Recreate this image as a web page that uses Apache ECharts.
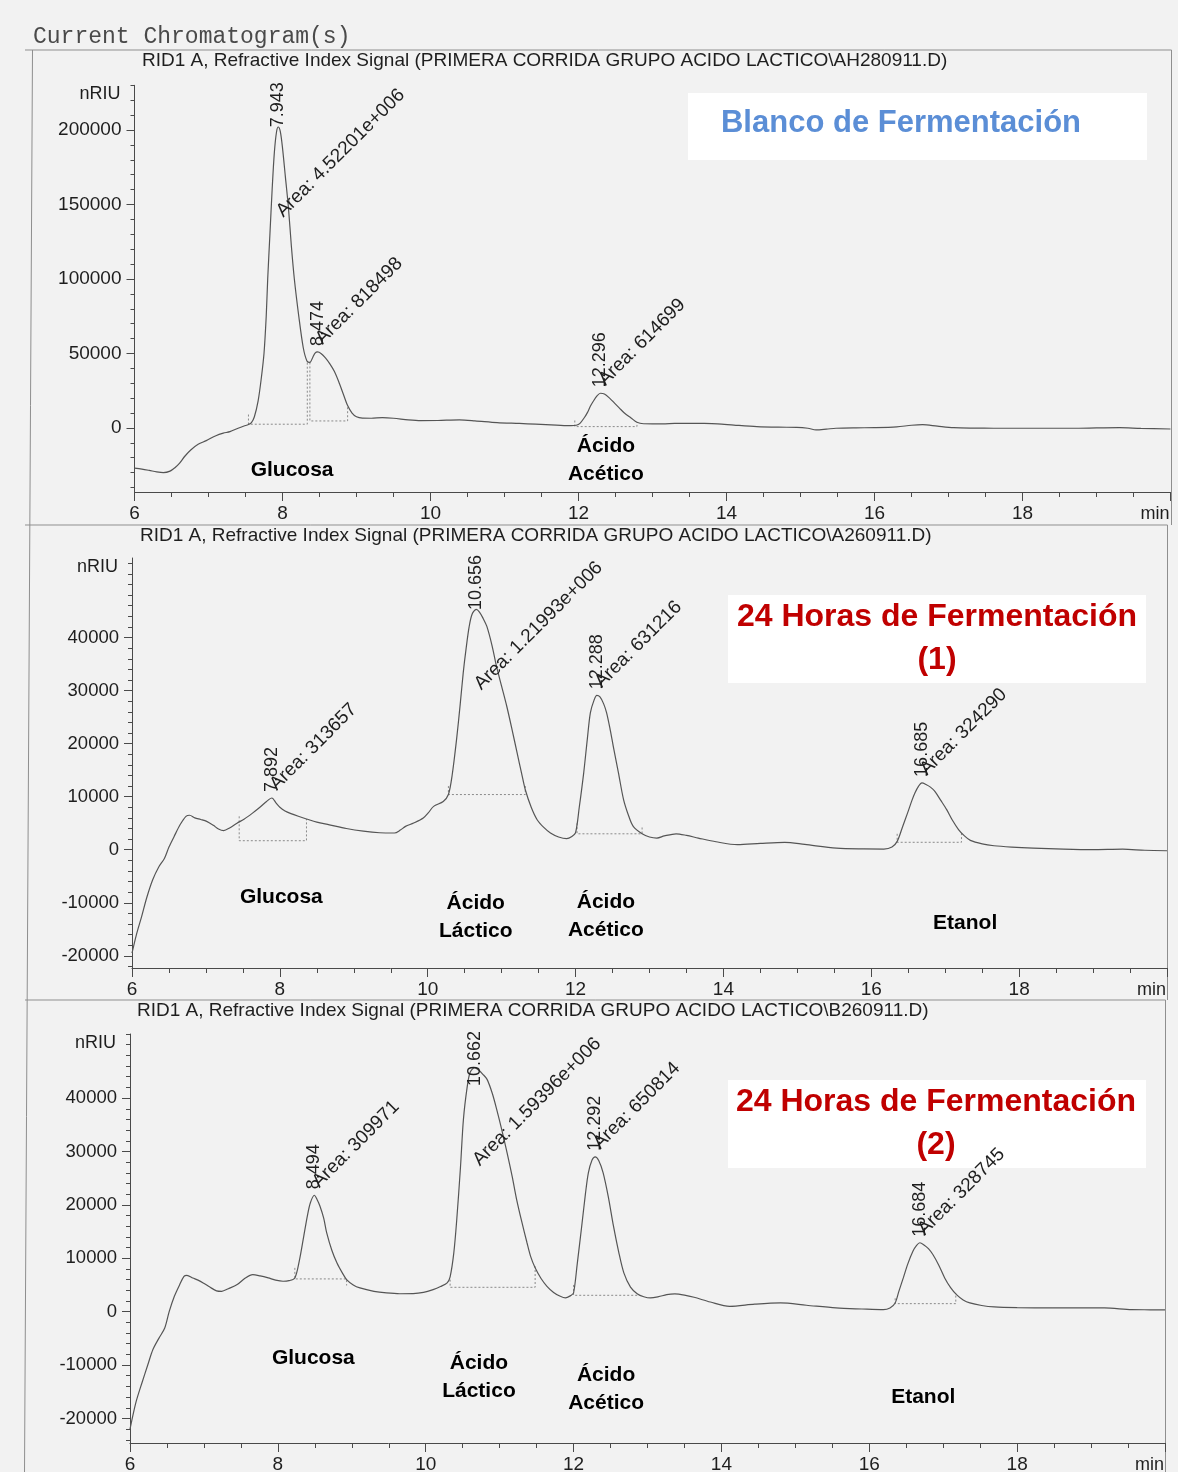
<!DOCTYPE html>
<html>
<head>
<meta charset="utf-8">
<title>Current Chromatogram(s)</title>
<script src="https://cdn.jsdelivr.net/npm/echarts@6/dist/echarts.min.js"></script>
<style>
  html, body { margin: 0; padding: 0; background: #f2f2f2; }
  #chart { width: 1178px; height: 1472px; }
</style>
</head>
<body>
<div id="chart"></div>
<script>
// ---------- Data: refractive index signal (nRIU) vs. retention time (min) ----------

// Blank fermentation run (AH280911.D)
const blancoSignal = [
  [6.00, -27000], [6.10, -27600], [6.20, -28500], [6.30, -29500], [6.39, -30000], [6.48, -29000],
  [6.55, -26500], [6.61, -23600], [6.68, -19000], [6.76, -14800], [6.86, -11000], [6.97, -8500],
  [7.10, -5200], [7.20, -3500], [7.29, -2500], [7.40, -200], [7.48, 1300], [7.54, 2300],
  [7.58, 3500], [7.62, 7500], [7.67, 18000], [7.71, 32000], [7.75, 50000], [7.78, 75000],
  [7.80, 100000], [7.83, 130000], [7.86, 160000], [7.89, 185000], [7.92, 199000], [7.943, 202000],
  [7.97, 199000], [8.00, 188000], [8.04, 168000], [8.08, 148000], [8.12, 122000], [8.16, 100000],
  [8.22, 75000], [8.28, 54000], [8.33, 45000], [8.37, 44000], [8.41, 47500], [8.44, 50200],
  [8.474, 51000], [8.52, 50000], [8.58, 47000], [8.64, 43000], [8.70, 38000], [8.76, 31000],
  [8.82, 23000], [8.88, 15000], [8.94, 10000], [9.00, 7500], [9.08, 6600], [9.20, 6500],
  [9.35, 6900], [9.50, 6500], [9.70, 5400], [9.87, 4900], [10.10, 5000], [10.39, 5400],
  [10.60, 4800], [10.90, 3600], [11.20, 3000], [11.42, 2500], [11.70, 1900], [11.90, 1500],
  [11.97, 1800], [12.02, 3100], [12.08, 7000], [12.12, 10300], [12.16, 14500], [12.20, 17900],
  [12.25, 21500], [12.296, 23300], [12.35, 22800], [12.42, 20000], [12.49, 16500], [12.55, 13500],
  [12.62, 10000], [12.71, 6700], [12.79, 3800], [12.88, 2800], [13.00, 2700], [13.13, 2700],
  [13.30, 3000], [13.50, 3100], [13.70, 3000], [13.88, 2700], [14.10, 1900], [14.41, 900],
  [14.70, 500], [14.95, 400], [15.10, -200], [15.21, -1300], [15.35, -800], [15.48, -200],
  [15.75, 100], [16.00, 200], [16.30, 700], [16.50, 1800], [16.65, 2200], [16.85, 1200],
  [17.07, 200], [17.35, -100], [17.61, -200], [18.00, -200], [18.67, -200], [19.00, 0],
  [19.31, 200], [19.60, -300], [20.00, -700]
];
const blancoRT = [7.943, 8.474, 12.296];
const blancoApex = [202000, 51000, 23300];
const blancoArea = ['4.52201e+006', '818498', '614699'];
// integration baselines: [start, end, level, left marker top, right marker top]
const blancoBaselines = [
  [7.54, 8.335, 2500, 9000, 44500],
  [8.37, 8.88, 4700, 44000, 14000],
  [11.95, 12.79, 900, 5000, 3800]
];
const blancoCompounds = ['Glucosa', 'Ácido\nAcético'];

// 24 h fermentation, replicate 1 (A260911.D)
const h24aSignal = [
  [6.00, -19500], [6.06, -16000], [6.13, -12600], [6.20, -9000], [6.28, -5660], [6.36, -3300],
  [6.44, -1600], [6.50, 500], [6.57, 2500], [6.65, 4700], [6.73, 6300], [6.78, 6500],
  [6.85, 6000], [6.93, 5700], [7.01, 5350], [7.10, 4600], [7.17, 3900], [7.24, 3600],
  [7.32, 4100], [7.42, 5000], [7.52, 5800], [7.63, 6900], [7.73, 8000], [7.82, 9100],
  [7.892, 9750], [7.95, 8800], [8.00, 8000], [8.07, 7300], [8.15, 6800], [8.25, 6300],
  [8.36, 5800], [8.50, 5200], [8.67, 4700], [8.90, 4000], [9.13, 3500], [9.35, 3200],
  [9.55, 3150], [9.63, 3700], [9.70, 4400], [9.81, 5030], [9.94, 5980], [10.01, 7000],
  [10.08, 8170], [10.21, 9100], [10.28, 10400], [10.33, 14000], [10.39, 20750], [10.44, 27500],
  [10.48, 33300], [10.52, 38000], [10.56, 42000], [10.60, 44400], [10.656, 45300], [10.70, 44800],
  [10.75, 43600], [10.80, 42100], [10.87, 38500], [10.93, 34600], [11.00, 30800], [11.07, 27000],
  [11.14, 22700], [11.21, 18200], [11.27, 14400], [11.32, 11300], [11.40, 8000], [11.48, 5660],
  [11.57, 4200], [11.66, 3150], [11.77, 2400], [11.88, 2080], [11.95, 2500], [12.00, 3200],
  [12.05, 8000], [12.11, 14500], [12.16, 21000], [12.20, 25800], [12.25, 28200], [12.288, 29100],
  [12.33, 28800], [12.38, 27500], [12.42, 25800], [12.47, 22500], [12.51, 19500], [12.58, 14500],
  [12.65, 9400], [12.72, 6300], [12.78, 4400], [12.90, 3000], [13.00, 2400], [13.10, 2200],
  [13.20, 2600], [13.36, 3000], [13.50, 2700], [13.66, 2200], [13.90, 1500], [14.19, 950],
  [14.50, 1200], [14.83, 1400], [15.10, 1000], [15.53, 300], [15.90, 150], [16.17, 130],
  [16.28, 500], [16.35, 1570], [16.42, 4200], [16.49, 6900], [16.55, 9300], [16.59, 10700],
  [16.64, 12000], [16.685, 12600], [16.74, 12300], [16.80, 11800], [16.86, 11000], [16.94, 9300],
  [17.02, 7550], [17.10, 5500], [17.18, 3800], [17.26, 2600], [17.34, 1760], [17.50, 1100],
  [17.66, 750], [17.90, 500], [18.19, 300], [18.60, 100], [18.99, 0], [19.40, 100],
  [19.70, -100], [20.00, -190]
];
const h24aRT = [7.892, 10.656, 12.288, 16.685];
const h24aApex = [9750, 45300, 29100, 12600];
const h24aArea = ['313657', '1.21993e+006', '631216', '324290'];
const h24aBaselines = [
  [7.45, 8.36, 1700, 6300, 5800],
  [10.28, 11.32, 10400, 12000, 12000],
  [12.02, 12.90, 3000, 5000, 4200],
  [16.35, 17.22, 1400, 3000, 3500]
];
const h24aCompounds = ['Glucosa', 'Ácido\nLáctico', 'Ácido\nAcético', 'Etanol'];

// 24 h fermentation, replicate 2 (B260911.D)
const h24bSignal = [
  [6.00, -22000], [6.08, -17000], [6.16, -13400], [6.24, -10000], [6.31, -7100], [6.39, -5000],
  [6.47, -3060], [6.53, 0], [6.60, 2870], [6.67, 5000], [6.73, 6620], [6.77, 6800],
  [6.85, 6300], [6.92, 5900], [6.99, 5380], [7.08, 4600], [7.17, 3900], [7.24, 3810],
  [7.33, 4300], [7.45, 5070], [7.56, 6300], [7.66, 6940], [7.76, 6700], [7.87, 6320],
  [7.97, 5900], [8.07, 5690], [8.15, 5800], [8.23, 6320], [8.29, 9500], [8.35, 14100],
  [8.40, 18000], [8.44, 20400], [8.494, 21800], [8.53, 21000], [8.57, 19750], [8.62, 17500],
  [8.66, 14800], [8.73, 11500], [8.80, 9100], [8.87, 7300], [8.93, 6000], [9.02, 5000],
  [9.11, 4440], [9.30, 3800], [9.47, 3500], [9.65, 3350], [9.83, 3370], [9.97, 3600],
  [10.10, 4130], [10.20, 4700], [10.29, 5380], [10.33, 6500], [10.38, 11000], [10.42, 17260],
  [10.47, 27000], [10.51, 36000], [10.56, 42000], [10.60, 44800], [10.662, 45700], [10.71, 45300],
  [10.77, 44500], [10.83, 43500], [10.90, 40900], [10.96, 37900], [11.03, 34000], [11.10, 29800],
  [11.17, 25300], [11.23, 21000], [11.30, 16800], [11.37, 12900], [11.42, 10300], [11.48, 8200],
  [11.56, 6200], [11.64, 4750], [11.73, 3600], [11.82, 2870], [11.89, 2570], [11.96, 3000],
  [12.00, 3500], [12.05, 9000], [12.11, 16000], [12.16, 22000], [12.20, 26000], [12.25, 28400],
  [12.292, 29000], [12.34, 28300], [12.40, 26000], [12.47, 21500], [12.54, 16000], [12.61, 11200],
  [12.68, 7260], [12.77, 4600], [12.86, 3370], [12.95, 2800], [13.04, 2570], [13.15, 2800],
  [13.26, 3190], [13.37, 3320], [13.50, 3100], [13.63, 2690], [13.85, 1800], [14.11, 1000],
  [14.45, 1400], [14.80, 1630], [15.15, 1200], [15.55, 690], [15.90, 500], [16.19, 380],
  [16.28, 700], [16.35, 1630], [16.40, 3800], [16.46, 6320], [16.52, 8900], [16.59, 11300],
  [16.64, 12400], [16.684, 12900], [16.74, 12500], [16.80, 11800], [16.86, 10700], [16.94, 8700],
  [17.02, 6320], [17.10, 4500], [17.18, 3190], [17.27, 2200], [17.36, 1630], [17.52, 1150],
  [17.69, 880], [18.00, 750], [18.48, 690], [18.85, 700], [19.18, 690], [19.55, 380],
  [19.80, 350], [20.00, 320]
];
const h24bRT = [8.494, 10.662, 12.292, 16.684];
const h24bApex = [21800, 45700, 29000, 12900];
const h24bArea = ['309971', '1.59396e+006', '650814', '328745'];
const h24bBaselines = [
  [8.23, 8.93, 6130, 8200, 4900],
  [10.33, 11.48, 4560, 6000, 8500],
  [12.00, 12.86, 3060, 5000, 3500],
  [16.35, 17.17, 1500, 2500, 3500]
];
const h24bCompounds = ['Glucosa', 'Ácido\nLáctico', 'Ácido\nAcético', 'Etanol'];

// Axis ticks
const timeTicks = [6, 8, 10, 12, 14, 16, 18];
const blancoYTicks = [0, 50000, 100000, 150000, 200000];
const h24YTicks = [-20000, -10000, 0, 10000, 20000, 30000, 40000];

const runFiles = ['AH280911.D', 'A260911.D', 'B260911.D'];
const headings = ['Blanco de Fermentación', '24 Horas de Fermentación\n(1)', '24 Horas de Fermentación\n(2)'];

// ---------- Layout ----------
const PANELS = [
  { signal: blancoSignal, rt: blancoRT, apex: blancoApex, area: blancoArea, baselines: blancoBaselines, compounds: blancoCompounds, yTicks: blancoYTicks, file: runFiles[0], heading: headings[0] },
  { signal: h24aSignal, rt: h24aRT, apex: h24aApex, area: h24aArea, baselines: h24aBaselines, compounds: h24aCompounds, yTicks: h24YTicks, file: runFiles[1], heading: headings[1] },
  { signal: h24bSignal, rt: h24bRT, apex: h24bApex, area: h24bArea, baselines: h24bBaselines, compounds: h24bCompounds, yTicks: h24YTicks, file: runFiles[2], heading: headings[2] }
];
const LAYOUT = [
  { grid: { left: 134.5, top: 85.3, width: 1036, height: 406.7 }, yMin: -43000, yMax: 230000, minorStep: 10000,
    titleX: 142, titleY: 61, frameTop: 50, frameRight: 1171.5,
    compoundAt: [[8.13, -28200], [12.37, -21500]],
    heading: { x: 901, y: 123, color: '#5b8ed6', size: 31, box: [688, 93, 459, 67] } },
  { grid: { left: 132, top: 558, width: 1035, height: 410 }, yMin: -22300, yMax: 55000, minorStep: 2000,
    titleX: 140, titleY: 536, frameTop: 525, frameRight: 1167.5,
    compoundAt: [[8.02, -8870], [10.65, -12640], [12.41, -12450], [17.27, -13800]],
    heading: { x: 937, y: 638.5, color: '#c00000', size: 32, box: [728, 595, 418, 88] } },
  { grid: { left: 130, top: 1034, width: 1035, height: 409 }, yMin: -24600, yMax: 52000, minorStep: 2000,
    titleX: 137, titleY: 1011, frameTop: 1000, frameRight: 1165.5,
    compoundAt: [[8.48, -8800], [10.72, -12200], [12.44, -14600], [16.73, -16100]],
    heading: { x: 936, y: 1124, color: '#c00000', size: 32, box: [728, 1080, 418, 88] } }
];

const FONT = '"Liberation Sans", Arial, Helvetica, sans-serif';
const INK = '#1e1e1e';
const AXIS = '#4a4a4a';
const TRACE = '#555';
const BASE = '#8a8a8a';
const FRAME = '#8f8f8f';
const RT_SIZE = 18;
const AREA_SIZE = 19;
const HIDDEN_MARK = { color: 'rgba(0,0,0,0)', opacity: 1 };

function minorValues(min, max, step) {
  const out = [];
  for (let v = Math.ceil(min / step) * step; v <= max; v += step) out.push(v);
  return out;
}

function buildOption(shift) {
  const grid = [], xAxis = [], yAxis = [], series = [], graphic = [];
  const signalSeriesIndex = [];

  PANELS.forEach((P, i) => {
    const L = LAYOUT[i];
    grid.push(Object.assign({ outerBoundsMode: 'none', containLabel: false }, L.grid));

    xAxis.push({
      type: 'value', gridIndex: i, min: 6, max: 20, interval: 2,
      axisLine: { show: true, onZero: false, lineStyle: { color: AXIS, width: 1 } },
      axisTick: { show: true, inside: false, length: 9, lineStyle: { color: AXIS } },
      minorTick: { show: true, splitNumber: 4, length: 5, lineStyle: { color: AXIS } },
      splitLine: { show: false }, minorSplitLine: { show: false },
      axisLabel: { fontSize: 19, color: INK, fontFamily: FONT, margin: 12, showMaxLabel: false,
        formatter: v => (timeTicks.indexOf(v) >= 0 ? String(v) : '') },
      name: 'min', nameLocation: 'end', nameGap: -1, nameMoveOverlap: false,
      nameTextStyle: { fontSize: 18, color: INK, fontFamily: FONT, align: 'right', verticalAlign: 'top', padding: [13, 0, 0, 0] }
    });

    yAxis.push({
      type: 'value', gridIndex: i, position: 'left', min: L.yMin, max: L.yMax,
      axisLine: { show: true, onZero: false, lineStyle: { color: AXIS, width: 1 } },
      axisTick: { show: true, length: 8, customValues: P.yTicks, lineStyle: { color: AXIS } },
      axisLabel: { customValues: P.yTicks, fontSize: i === 0 ? 19 : 18.5, color: INK, fontFamily: FONT, margin: 13,
        formatter: v => String(v) },
      splitLine: { show: false },
      name: 'nRIU', nameLocation: 'end', nameGap: -9, nameMoveOverlap: false,
      nameTextStyle: { fontSize: 18, color: INK, fontFamily: FONT, align: 'right', verticalAlign: 'middle', padding: [0, 14, 0, 0] }
    });
    yAxis.push({
      type: 'value', gridIndex: i, position: 'left', offset: 0, min: L.yMin, max: L.yMax,
      axisLine: { show: false, onZero: false },
      axisTick: { show: true, length: 4, customValues: minorValues(L.yMin, L.yMax, L.minorStep), lineStyle: { color: AXIS } },
      axisLabel: { show: false }, splitLine: { show: false }
    });

    const yi = 2 * i;
    signalSeriesIndex.push(series.length);
    series.push({
      type: 'line', name: P.file, xAxisIndex: i, yAxisIndex: yi, data: P.signal,
      symbol: 'none', smooth: 0.3, lineStyle: { color: TRACE, width: 1.2 }, silent: true, z: 3, animation: false
    });

    P.baselines.forEach(b => {
      series.push({
        type: 'line', xAxisIndex: i, yAxisIndex: yi,
        data: [[b[0], b[3]], [b[0], b[2]], [b[1], b[2]], [b[1], b[4]]],
        symbol: 'none', lineStyle: { color: BASE, width: 1, type: [2, 2] }, silent: true, z: 2, animation: false
      });
    });

    // retention time labels
    series.push({
      type: 'scatter', xAxisIndex: i, yAxisIndex: yi, symbol: 'circle', symbolSize: 2,
      itemStyle: HIDDEN_MARK, silent: true, z: 4, animation: false,
      data: P.rt.map((t, k) => ({
        value: [t, P.apex[k]], name: t.toFixed(3),
        label: { position: [1, -5 + (shift ? shift.rt[i][k] : 0)] }
      })),
      label: { show: true, formatter: p => p.name, rotate: 90,
        align: 'left', verticalAlign: 'middle', fontSize: RT_SIZE, color: INK, fontFamily: FONT, opacity: 1 }
    });

    // peak area labels
    series.push({
      type: 'scatter', xAxisIndex: i, yAxisIndex: yi, symbol: 'circle', symbolSize: 2,
      itemStyle: HIDDEN_MARK, silent: true, z: 4, animation: false,
      data: P.rt.map((t, k) => ({
        value: [t, P.apex[k]], name: 'Area: ' + P.area[k],
        label: { position: [9, -3 + (shift ? shift.area[i][k] : 0)] }
      })),
      label: { show: true, formatter: p => p.name, rotate: 45,
        align: 'left', verticalAlign: 'bottom', fontSize: AREA_SIZE, color: INK, fontFamily: FONT, opacity: 1 }
    });

    // compound names
    series.push({
      type: 'scatter', xAxisIndex: i, yAxisIndex: yi, symbol: 'circle', symbolSize: 2,
      itemStyle: HIDDEN_MARK, silent: true, z: 4, animation: false,
      data: L.compoundAt.map((c, k) => ({ value: c, name: P.compounds[k] })),
      label: { show: true, formatter: p => p.name, position: 'inside', align: 'center', verticalAlign: 'middle',
        fontSize: 21, fontWeight: 'bold', lineHeight: 28, color: '#000', opacity: 1,
        textBorderWidth: 0, fontFamily: FONT }
    });

    // panel frame
    graphic.push({ type: 'line', shape: { x1: 25, y1: L.frameTop, x2: L.frameRight, y2: L.frameTop },
      style: { stroke: FRAME, lineWidth: 1 }, silent: true });
    graphic.push({ type: 'line', shape: { x1: L.frameRight, y1: L.frameTop, x2: L.frameRight, y2: i < 2 ? LAYOUT[i + 1].frameTop : 1472 },
      style: { stroke: FRAME, lineWidth: 1 }, silent: true });

    // signal title
    graphic.push({ type: 'text', x: L.titleX, y: L.titleY, silent: true,
      style: { text: 'RID1 A, Refractive Index Signal (PRIMERA CORRIDA GRUPO ACIDO LACTICO\\' + P.file + ')',
        font: '19px ' + FONT, fill: INK, align: 'left', verticalAlign: 'middle' } });

    // heading box + text
    const H = L.heading;
    graphic.push({ type: 'rect', shape: { x: H.box[0], y: H.box[1], width: H.box[2], height: H.box[3] },
      style: { fill: '#ffffff' }, silent: true, z: -1 });
    graphic.push({ type: 'text', x: H.x, y: H.y, silent: true,
      style: { text: P.heading, font: 'bold ' + H.size + 'px ' + FONT, fill: H.color,
        align: 'center', verticalAlign: 'middle', lineHeight: 43 } });
  });

  // outer left edge of the printout
  graphic.push({ type: 'line', shape: { x1: 32.5, y1: 50, x2: 24.5, y2: 1472 },
    style: { stroke: FRAME, lineWidth: 1 }, silent: true });
  graphic.push({ type: 'text', x: 33, y: 37, silent: true,
    style: { text: 'Current Chromatogram(s)', font: '23px "Liberation Mono", "Courier New", monospace',
      fill: '#4a4a4a', align: 'left', verticalAlign: 'middle' } });

  return {
    option: {
      animation: false,
      backgroundColor: '#f2f2f2',
      grid, xAxis, yAxis, series, graphic,
      tooltip: { show: false }
    },
    signalSeriesIndex
  };
}

const chart = echarts.init(document.getElementById('chart'), null, { renderer: 'canvas' });
const first = buildOption(null);
chart.setOption(first.option);

// Peak labels that would run past the top of the plot are pushed down to fit
const ctx = document.createElement('canvas').getContext('2d');
function textWidth(text, size) {
  ctx.font = size + 'px "Liberation Sans"';
  return ctx.measureText(text).width;
}
const shift = { rt: [], area: [] };
PANELS.forEach((P, i) => {
  const top = LAYOUT[i].grid.top;
  shift.rt.push(P.rt.map((t, k) => {
    const p = chart.convertToPixel({ seriesIndex: first.signalSeriesIndex[i] }, [t, P.apex[k]]);
    const labelTop = p[1] - 6 - textWidth(t.toFixed(3), RT_SIZE);
    return Math.max(0, top - 3 - labelTop);
  }));
  shift.area.push(P.rt.map((t, k) => {
    const p = chart.convertToPixel({ seriesIndex: first.signalSeriesIndex[i] }, [t, P.apex[k]]);
    const w = textWidth('Area: ' + P.area[k], AREA_SIZE);
    const labelTop = p[1] - 4 - (w + AREA_SIZE) * Math.SQRT1_2;
    return Math.max(0, top - labelTop);
  }));
});
chart.setOption(buildOption(shift).option, true);
</script>
</body>
</html>
